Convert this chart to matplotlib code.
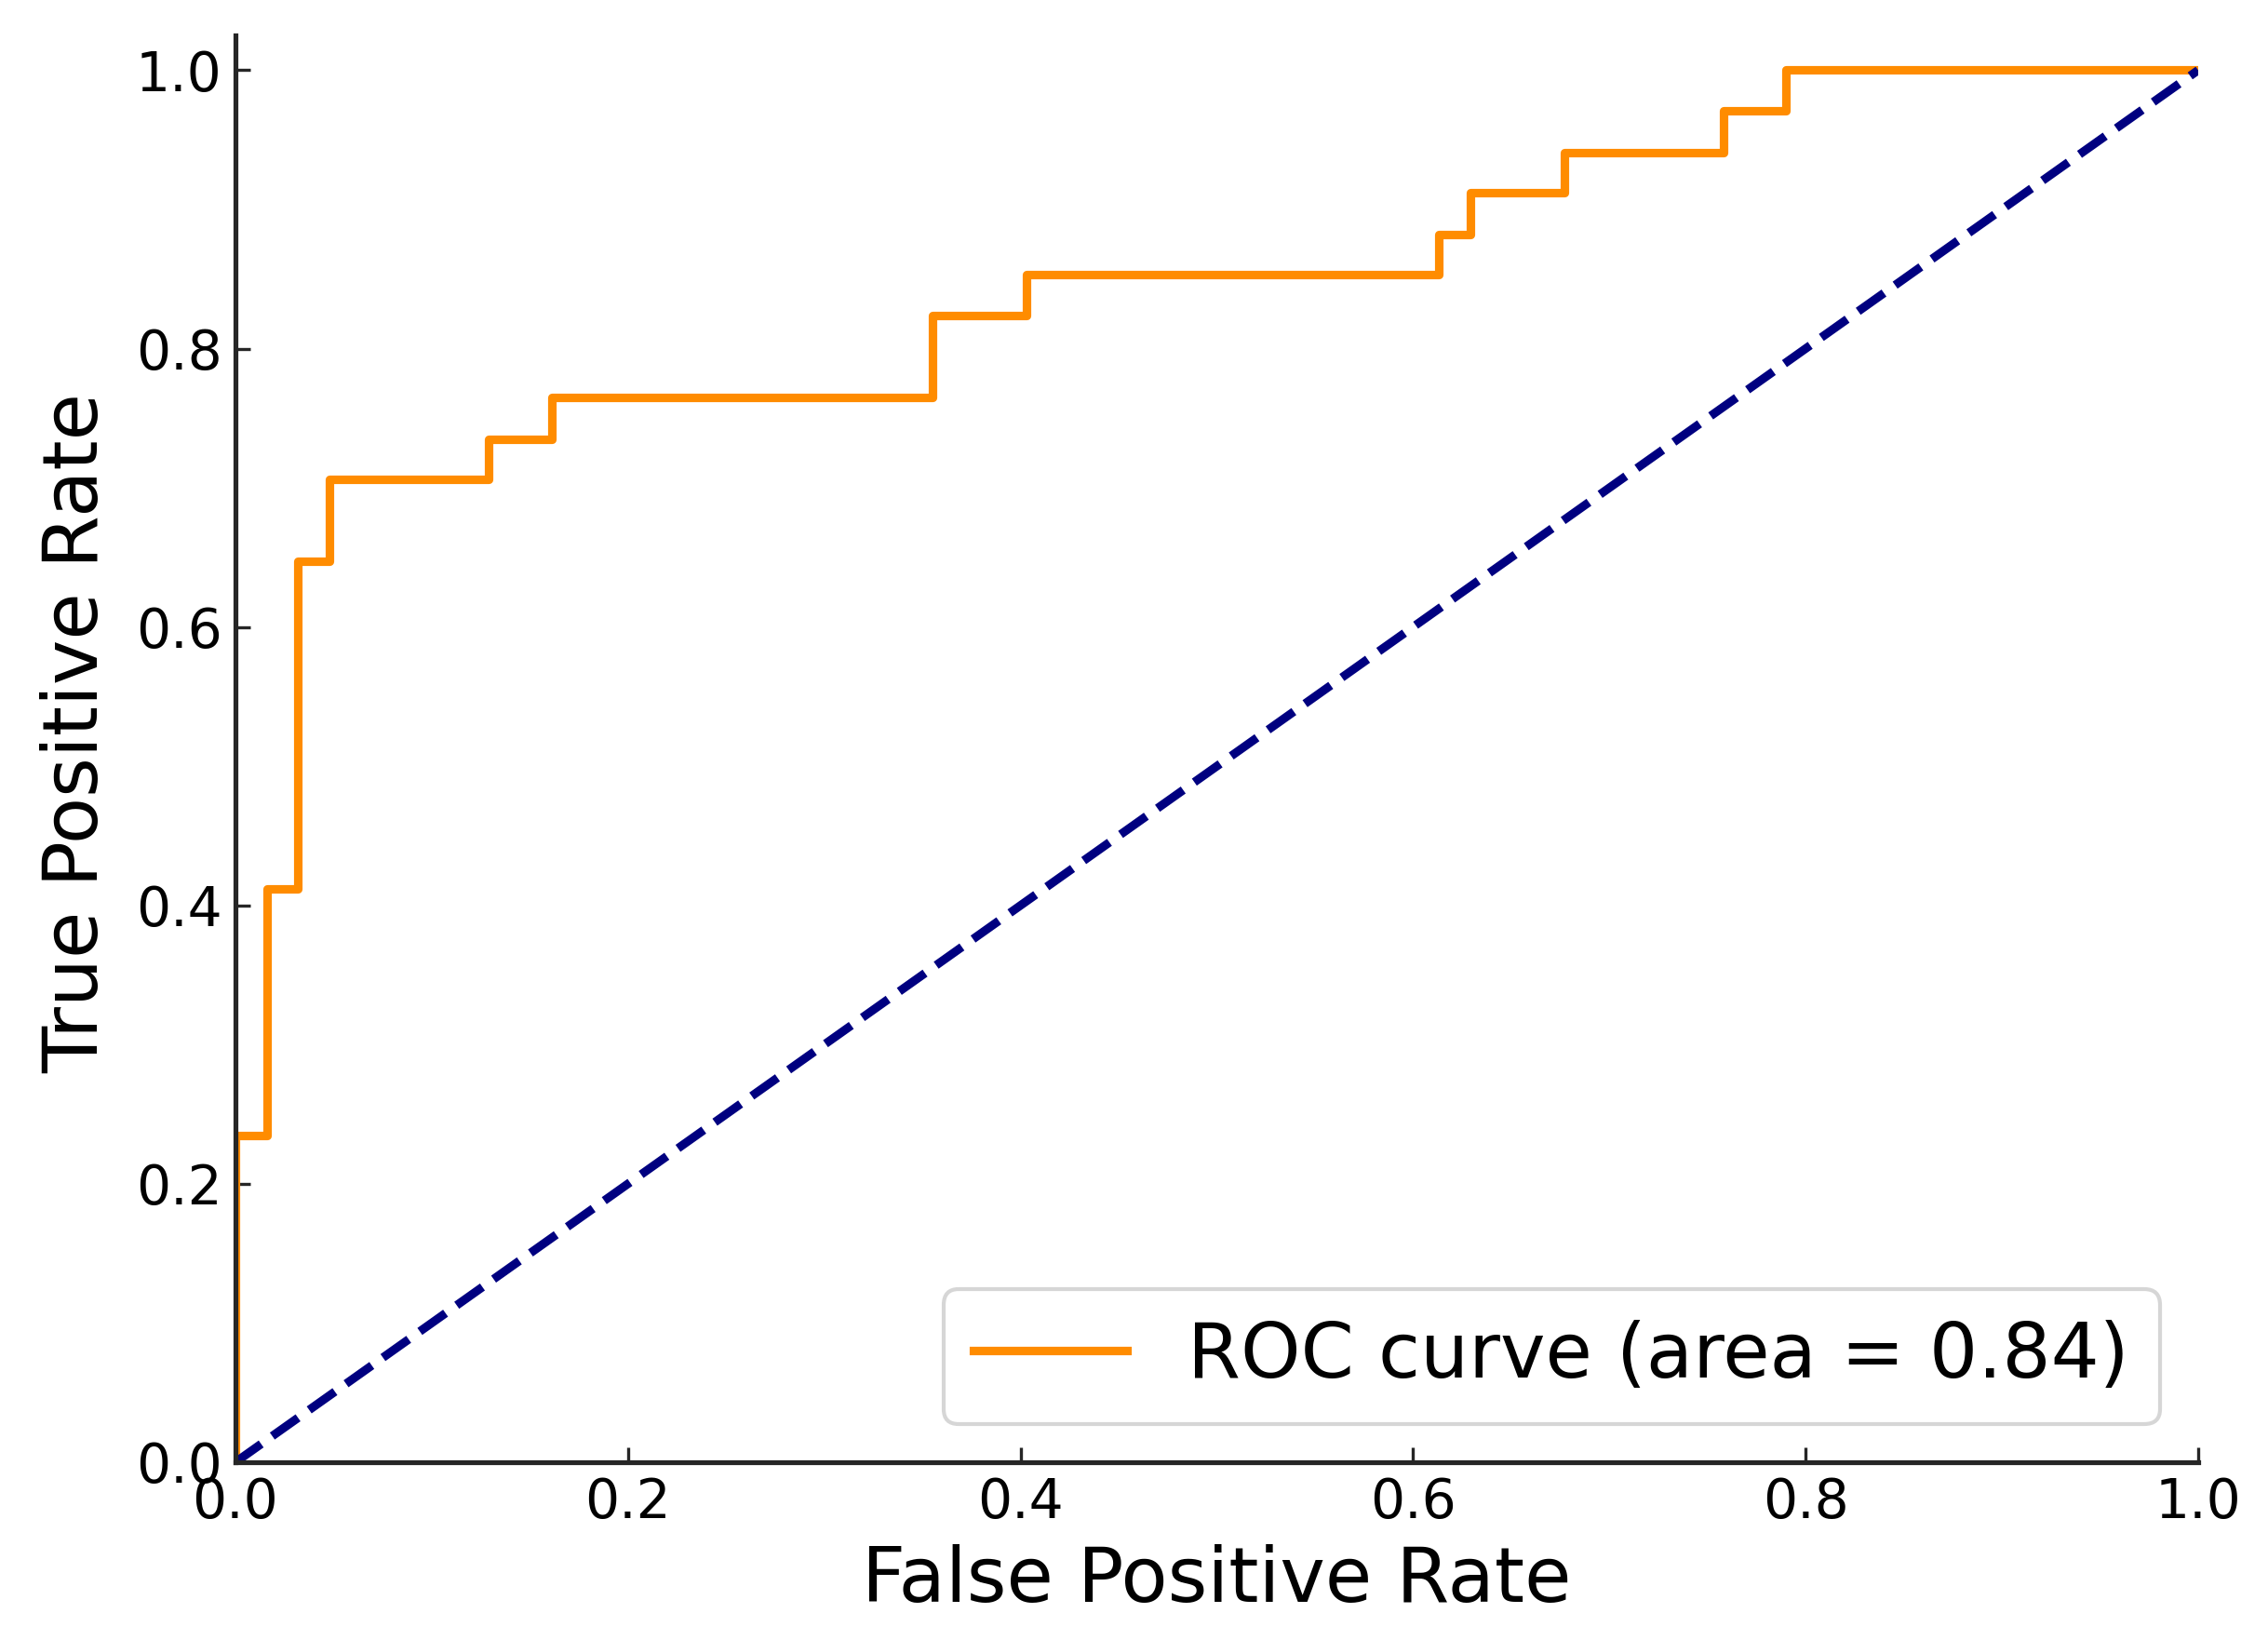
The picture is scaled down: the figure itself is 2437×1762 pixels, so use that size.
import matplotlib
matplotlib.use('Agg')
from matplotlib import pyplot as plt

# pontos da curva ROC (degraus)
fpr = [0.0, 0.0, 0.016, 0.032, 0.048, 0.129, 0.161, 0.355, 0.403, 0.613, 0.629, 0.677, 0.758, 0.790, 1.0]
tpr = [0.0, 0.235, 0.412, 0.647, 0.706, 0.735, 0.765, 0.824, 0.853, 0.882, 0.912, 0.941, 0.971, 1.0, 1.0]
roc_auc = 0.84

diag_x = [0.0, 1.0]
diag_y = [0.0, 1.0]

fig = plt.figure(figsize=(2437 / 300, 1762 / 300), dpi=300)
ax = fig.add_axes([0.1038, 0.1084, 0.8654, 0.870])

ax.step(fpr, tpr, where='post', color='darkorange', lw=2.2,
        label='ROC curve (area = %0.2f)' % roc_auc)
ax.plot(diag_x, diag_y, color='navy', lw=2.2, linestyle='--')

ax.set_xlim(0.0, 1.0)
ax.set_ylim(0.0, 1.025)
ax.set_xticks([0.0, 0.2, 0.4, 0.6, 0.8, 1.0])
ax.set_yticks([0.0, 0.2, 0.4, 0.6, 0.8, 1.0])

for side in ['top', 'right']:
    ax.spines[side].set_visible(False)
for side in ['left', 'bottom']:
    ax.spines[side].set_linewidth(1.25)
    ax.spines[side].set_color('#262626')

ax.tick_params(direction='in', labelsize=14, length=3.8, width=0.8, colors='#262626')
ax.tick_params(labelcolor='black')

ax.set_xlabel('False Positive Rate', fontsize=19.7)
ax.set_ylabel('True Positive Rate', fontsize=19.7)
ax.yaxis.set_label_coords(-0.062, 0.511)
ax.legend(loc='lower right', fontsize=19.7)

fig.savefig('out.png', dpi=300)
